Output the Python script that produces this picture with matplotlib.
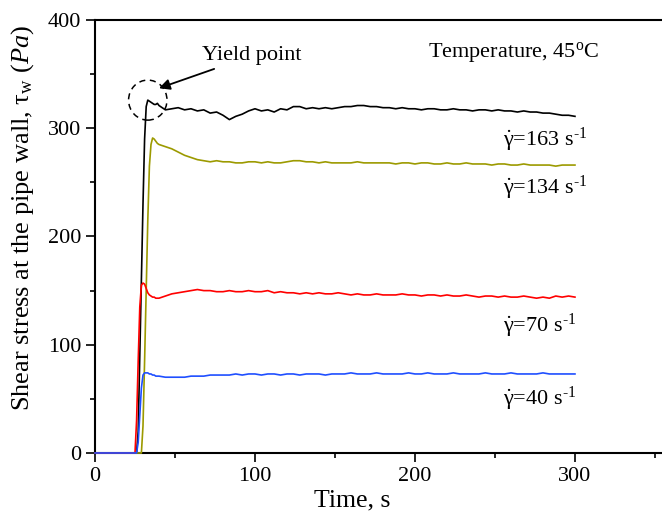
import matplotlib.pyplot as plt
from matplotlib.patches import Ellipse
from matplotlib.ticker import MultipleLocator

# Shared time grid for the steady part of every run (s).
t_grid = list(range(40, 301, 4))

# Shear rate 163 1/s
t_on_163 = [0, 26, 27, 28, 29, 30, 31, 32, 33, 34, 35, 36, 37, 38, 39]
v_on_163 = [0, 0, 20, 90, 160, 230, 290, 320, 326, 325, 324, 323, 322, 322, 323]
v_163 = [321, 317, 318, 319, 317, 318, 316, 317, 314, 315,
         312, 308, 311, 313, 316, 318, 316, 317, 315, 318,
         317, 320, 320, 318, 319, 318, 319, 318, 319, 320,
         320, 321, 321, 320, 320, 319, 319, 318, 319, 318,
         318, 317, 318, 318, 317, 317, 318, 317, 317, 316,
         317, 317, 316, 317, 316, 316, 315, 316, 315, 315,
         314, 314, 313, 312, 312, 311]

# Shear rate 134 1/s
t_on_134 = [0, 29, 30, 31, 32, 33, 34, 35, 36, 37, 38, 39]
v_on_134 = [0, 0, 25, 85, 150, 215, 265, 285, 291, 290, 288, 286]
v_134 = [285, 283, 281, 278, 275, 273, 271, 270, 269, 270,
         269, 269, 268, 268, 269, 269, 268, 269, 268, 268,
         269, 270, 270, 269, 269, 268, 269, 268, 268, 268,
         268, 269, 268, 268, 268, 268, 268, 267, 268, 268,
         267, 268, 268, 267, 267, 268, 267, 267, 268, 267,
         267, 267, 266, 267, 267, 266, 266, 267, 266, 266,
         266, 266, 265, 266, 266, 266]

# Shear rate 70 1/s
t_on_70 = [0, 25, 26, 27, 28, 29, 30, 31, 32, 33, 34, 35, 36, 37, 38, 39]
v_on_70 = [0, 0, 30, 85, 135, 155, 157, 156, 152, 148, 146, 145, 144, 144, 143, 143]
v_70 = [143, 145, 147, 148, 149, 150, 151, 150, 150, 149,
        149, 150, 149, 149, 150, 149, 149, 150, 148, 149,
        148, 148, 147, 148, 147, 148, 147, 147, 148, 147,
        146, 147, 146, 146, 147, 146, 146, 146, 147, 146,
        146, 145, 146, 146, 145, 146, 145, 145, 146, 145,
        144, 145, 145, 144, 145, 144, 144, 145, 144, 143,
        144, 143, 145, 144, 145, 144]

# Shear rate 40 1/s
t_on_40 = [0, 26, 27, 28, 29, 30, 31, 32, 33, 34, 35, 36, 37, 38, 39]
v_on_40 = [0, 0, 10, 35, 60, 72, 74, 74, 74, 73, 73, 72, 72, 71, 71]
v_40 = [71, 70, 70, 70, 70, 71, 71, 71, 72, 72,
        72, 72, 73, 72, 73, 73, 72, 73, 73, 72,
        73, 73, 72, 73, 73, 73, 72, 73, 73, 73,
        74, 73, 73, 73, 74, 73, 73, 73, 73, 74,
        73, 73, 74, 73, 73, 73, 74, 73, 73, 73,
        73, 74, 73, 73, 73, 74, 73, 73, 73, 73,
        74, 73, 73, 73, 73, 73]

series = [
    (t_on_163, v_on_163, v_163, "black", r"$\dot{\mathrm{\gamma}}$=163 s$^{\mathrm{‐1}}$", 289),
    (t_on_134, v_on_134, v_134, "#9c9a00", r"$\dot{\mathrm{\gamma}}$=134 s$^{\mathrm{‐1}}$", 245),
    (t_on_70, v_on_70, v_70, "#ff0000", r"$\dot{\mathrm{\gamma}}$=70 s$^{\mathrm{‐1}}$", 117),
    (t_on_40, v_on_40, v_40, "#1f4fff", r"$\dot{\mathrm{\gamma}}$=40 s$^{\mathrm{‐1}}$", 50),
]

plt.rcParams["font.family"] = ["Liberation Serif", "DejaVu Serif"]
plt.rcParams["mathtext.fontset"] = "custom"
plt.rcParams["mathtext.rm"] = "Liberation Serif"
plt.rcParams["mathtext.it"] = "Liberation Serif:italic"

fig = plt.figure(figsize=(6.62, 5.13), dpi=100)
ax = fig.add_axes([0.1435, 0.117, 0.8565, 0.844])

for t_on, v_on, v, color, label, label_y in series:
    ax.plot(t_on + t_grid, v_on + v, color=color, linewidth=1.2,
            clip_on=False, zorder=3)
    ax.text(255, label_y, label, fontsize=16, va="center", ha="left")

# Yield point marker.
ax.add_patch(Ellipse((33, 326), width=24, height=37, fill=False,
                     linestyle=(0, (4, 3)), linewidth=1.1, color="black"))
ax.annotate("Yield point", xy=(40, 337), xytext=(67, 367),
            fontsize=16, va="center", ha="left",
            arrowprops=dict(arrowstyle="-|>", color="black", lw=1.3,
                            mutation_scale=16, shrinkA=2, shrinkB=0))

ax.text(208, 370, r"Temperature, 45$^{\mathrm{o}}$C", fontsize=16, va="center", ha="left")

ax.set_xlim(0, 354.4)
ax.set_ylim(0, 400)
ax.xaxis.set_major_locator(MultipleLocator(100))
ax.xaxis.set_minor_locator(MultipleLocator(50))
ax.yaxis.set_major_locator(MultipleLocator(100))
ax.yaxis.set_minor_locator(MultipleLocator(50))
ax.tick_params(which="major", direction="out", length=6.5, width=1.2, labelsize=16)
ax.tick_params(which="minor", direction="out", length=3.5, width=1.2)
ax.spines["right"].set_visible(False)
for side in ["top", "left", "bottom"]:
    ax.spines[side].set_linewidth(1.5)

ax.set_xlabel("Time, s", fontsize=18.5)
ax.xaxis.set_label_coords(0.453, -0.085)
ax.set_ylabel(r"Shear stress at the pipe wall, $\mathrm{\tau}_{\mathrm{w}}$ $(\mathit{Pa})$", fontsize=19)
ax.yaxis.set_label_coords(-0.104, 0.543)

fig.savefig("out.png", dpi=100)
